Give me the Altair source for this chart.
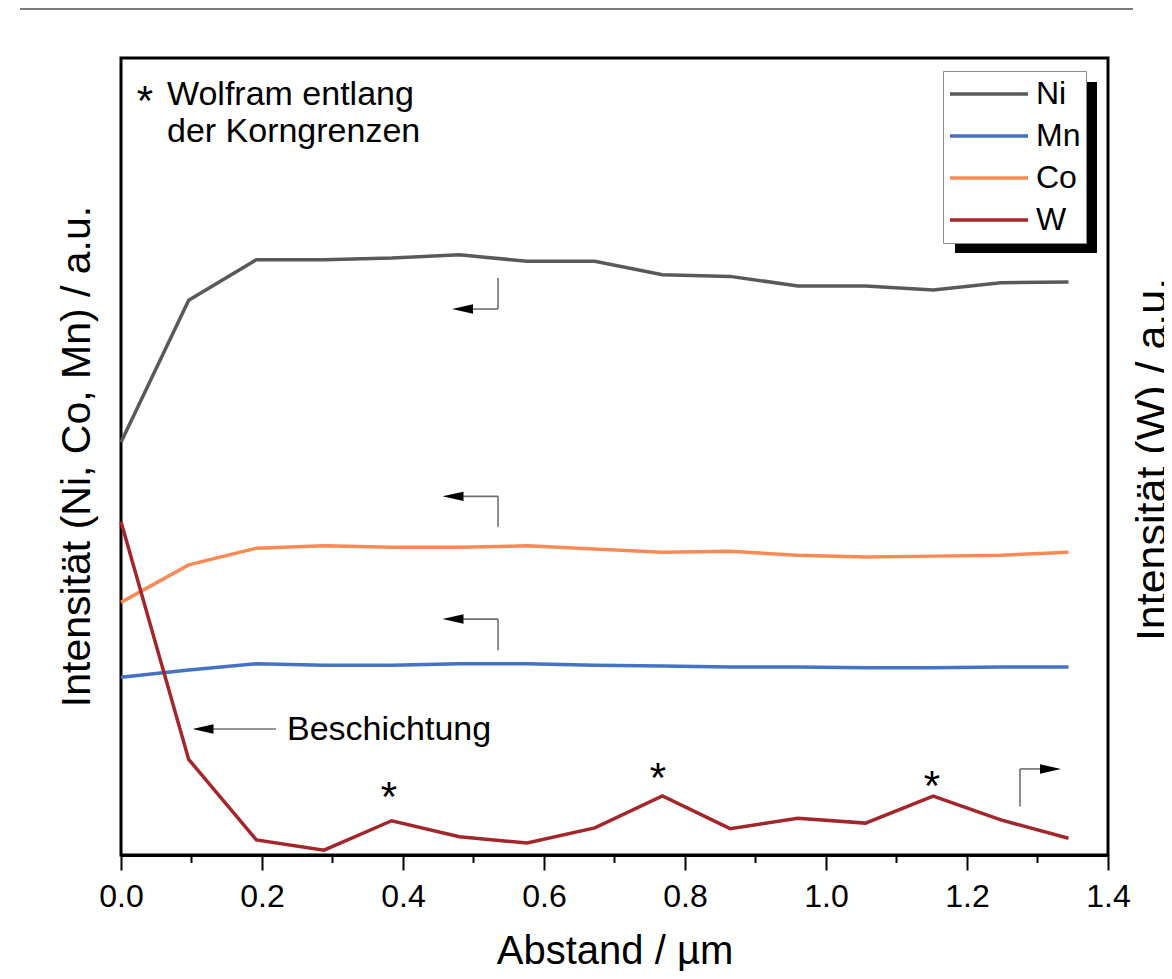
import altair as alt
import pandas as pd

# ---------------- data ----------------
distance = [0.000, 0.096, 0.192, 0.288, 0.384, 0.480, 0.576, 0.672,
            0.768, 0.864, 0.960, 1.056, 1.152, 1.248, 1.344]
ni = [51.8, 69.6, 74.7, 74.7, 74.9, 75.3, 74.5, 74.5, 72.8, 72.6, 71.4, 71.4, 70.9, 71.8, 71.9]
mn = [22.3, 23.2, 24.0, 23.8, 23.8, 24.0, 24.0, 23.8, 23.7, 23.6, 23.6, 23.5, 23.5, 23.6, 23.6]
co = [31.7, 36.4, 38.5, 38.8, 38.6, 38.6, 38.8, 38.4, 38.0, 38.1, 37.6, 37.4, 37.5, 37.6, 38.0]
w = [41.8, 12.0, 1.9, 0.6, 4.3, 2.3, 1.5, 3.4, 7.4, 3.3, 4.6, 4.0, 7.4, 4.4, 2.1]

elements = ["Ni", "Mn", "Co", "W"]
colors = ["#595959", "#4472C4", "#FA8A55", "#A3262A"]

x_ticks = [0.0, 0.2, 0.4, 0.6, 0.8, 1.0, 1.2, 1.4]
minor_ticks = [0.1, 0.3, 0.5, 0.7, 0.9, 1.1, 1.3]

# annotation arrows (data coordinates)
seg_x1 = [0.5348, 0.5348, 0.5348, 0.5348, 0.5348, 0.5348, 1.2752, 1.2752, 0.2199]
seg_y1 = [72.4, 68.5, 41.2, 45.0, 25.7, 29.6, 6.1, 10.8, 15.8]
seg_x2 = [0.5348, 0.4993, 0.5348, 0.4851, 0.5348, 0.4851, 1.2752, 1.3035, 0.1305]
seg_y2 = [68.5, 68.5, 45.0, 45.0, 29.6, 29.6, 10.8, 10.8, 15.8]
head_left_x = [0.4844, 0.4709, 0.4709, 0.1163]
head_left_y = [68.5, 45.0, 29.6, 15.8]
head_right_x = [1.3184]
head_right_y = [10.8]

label_text = ["Wolfram entlang", "der Korngrenzen", "Beschichtung"]
label_x = [0.0652, 0.0652, 0.2355]
label_y = [94.1, 89.5, 14.4]
star_x = [0.034, 0.3801, 0.7617, 1.1504]
star_y = [92.8, 5.5, 7.9, 6.9]

# ---------------- tables ----------------
rows = []
for name, vals in zip(elements, [ni, mn, co, w]):
    for d, v in zip(distance, vals):
        rows.append({"distance": d, "intensity": v, "element": name})
df = pd.DataFrame(rows)
left_df = df[df["element"] != "W"]
w_df = df[df["element"] == "W"]

seg_df = pd.DataFrame({"x1": seg_x1, "y1": seg_y1, "x2": seg_x2, "y2": seg_y2})
hl_df = pd.DataFrame({"x": head_left_x, "y": head_left_y})
hr_df = pd.DataFrame({"x": head_right_x, "y": head_right_y})
lab_df = pd.DataFrame({"x": label_x, "y": label_y, "label": label_text})
star_df = pd.DataFrame({"x": star_x, "y": star_y})
minor_df = pd.DataFrame({"t": minor_ticks})
one_df = pd.DataFrame({"a": [0]})

FONT = "Liberation Sans"

x_scale = alt.Scale(domain=[0, 1.4], nice=False, zero=False)
y_scale = alt.Scale(domain=[0, 100], nice=False, zero=False)

x_axis = alt.Axis(values=x_ticks, format=".1f", labelFontSize=32, labelColor="black",
                  labelPadding=11, labelFlush=False, labelOverlap=False,
                  tickSize=15, tickWidth=2, tickColor="black",
                  domainColor="black", domainWidth=3, grid=False,
                  title="Abstand / µm", titleFontSize=40, titleFontWeight="normal",
                  titleColor="black", titleY=76, titleBaseline="top")
left_axis = alt.Axis(orient="left", labels=False, ticks=False, domain=False, grid=False,
                     title="Intensität (Ni, Co, Mn) / a.u.", titleFontSize=41,
                     titleFontWeight="normal", titleColor="black", titleAngle=270,
                     titleX=-32, titleY=398, titleAlign="center", titleBaseline="alphabetic")
right_axis = alt.Axis(orient="right", labels=False, ticks=False, domain=False, grid=False,
                      title="Intensität (W) / a.u.", titleFontSize=43,
                      titleFontWeight="normal", titleColor="black", titleAngle=270,
                      titleX=57, titleY=401, titleAlign="center", titleBaseline="alphabetic")

legend = alt.Legend(orient="none", legendX=822, legendY=13, title=None,
                    symbolType="stroke", symbolSize=6084, symbolStrokeWidth=3.5,
                    labelFontSize=32, labelColor="black", clipHeight=36, rowPadding=6,
                    padding=5, strokeColor="#8c8c8c", fillColor="white",
                    labelOffset=6, cornerRadius=0, labelLimit=200)
color = alt.Color("element:N", scale=alt.Scale(domain=elements, range=colors), legend=legend)


def X(field):
    return alt.X(field, type="quantitative", scale=x_scale, axis=x_axis)


def Y(field):
    return alt.Y(field, type="quantitative", scale=y_scale, axis=left_axis)


page_line = alt.Chart(one_df).mark_rule(color="#7a7a7a", strokeWidth=2).encode(
    x=alt.value(-101), x2=alt.value(1012), y=alt.value(-49))
shadow = alt.Chart(one_df).mark_rect(color="black").encode(
    x=alt.value(834), x2=alt.value(976), y=alt.value(24), y2=alt.value(195))
minor = alt.Chart(minor_df).mark_rule(color="black", strokeWidth=2).encode(
    x=X("t"), y=alt.value(797), y2=alt.value(805))

lines_left = alt.Chart(left_df).mark_line(strokeWidth=3.5).encode(
    x=X("distance"), y=Y("intensity"), color=color)

rules = alt.Chart(seg_df).mark_rule(color="#707070", strokeWidth=1.6).encode(
    x=X("x1"), y=Y("y1"), x2="x2", y2="y2")
heads_l = alt.Chart(hl_df).mark_point(shape="M-1,0L1,-0.45L1,0.45Z", size=441, filled=True,
                                      color="black", opacity=1, strokeWidth=0).encode(
    x=X("x"), y=Y("y"))
heads_r = alt.Chart(hr_df).mark_point(shape="M1,0L-1,-0.45L-1,0.45Z", size=441, filled=True,
                                      color="black", opacity=1, strokeWidth=0).encode(
    x=X("x"), y=Y("y"))
labels = alt.Chart(lab_df).mark_text(align="left", baseline="alphabetic", fontSize=34,
                                     color="black", font=FONT).encode(
    x=X("x"), y=Y("y"), text="label:N")
stars = alt.Chart(star_df).mark_text(text="*", align="center", baseline="alphabetic",
                                     fontSize=42, color="black", font=FONT).encode(
    x=X("x"), y=Y("y"))

left = alt.layer(page_line, shadow, minor, lines_left, rules, heads_l, heads_r, labels, stars)

w_line = alt.Chart(w_df).mark_line(strokeWidth=3.5).encode(
    x=X("distance"),
    y=alt.Y("intensity", type="quantitative", scale=y_scale, axis=right_axis),
    color=color)

chart = (
    alt.layer(left, w_line)
    .resolve_scale(y="independent")
    .properties(width=987, height=797,
                autosize=alt.AutoSizeParams(type="none"),
                padding={"left": 113, "top": 50, "right": 56, "bottom": 116})
    .configure(font=FONT)
    .configure_view(stroke="black", strokeWidth=3)
)

chart.save("out.html", embed_options={"renderer": "svg", "actions": False})
